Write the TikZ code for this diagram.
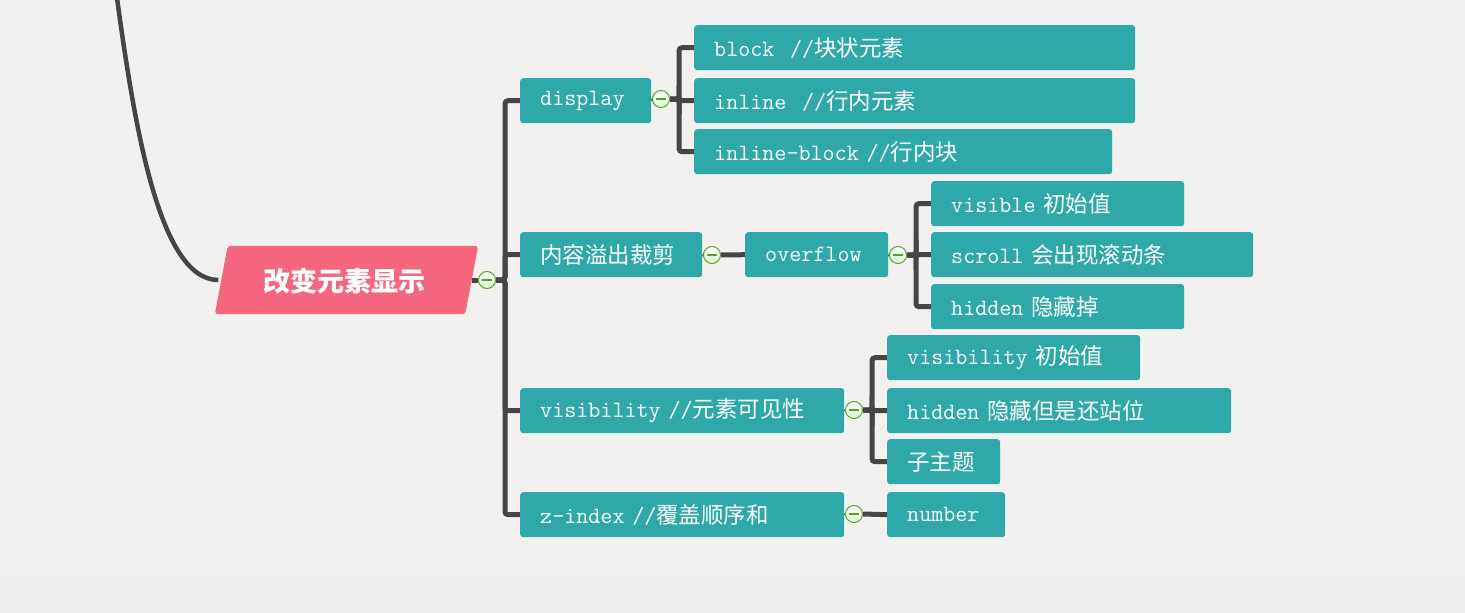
\documentclass[tikz,border=0pt]{standalone}
\usepackage{fontspec}
\newfontfamily\cjk{Noto Sans CJK SC}
\usepackage{tikz}
\usetikzlibrary{backgrounds}
\definecolor{paper}{HTML}{F2F1EF}
\definecolor{band}{HTML}{EEEEEE}
\definecolor{topic}{HTML}{2EA8A9}
\definecolor{rootpink}{HTML}{F4677F}
\definecolor{linegray}{HTML}{454545}
\definecolor{foldgreen}{HTML}{5E9F2A}
\newcommand\zh[1]{{\cjk\fontsize{22.5}{26}\selectfont #1}}
\tikzset{
  tbox/.style={rectangle,fill=topic,rounded corners=3pt,text=white,anchor=north west,
    minimum height=45,inner xsep=20,inner ysep=0,align=left,
    font=\ttfamily\fontsize{23.4}{26}\selectfont},
  link/.style={draw=linegray,line width=5pt,rounded corners=3pt},
  fold/.style={circle,draw=foldgreen,line width=1pt,top color=white,bottom color=green!15!white,
    minimum size=17,inner sep=0,
    path picture={\draw[foldgreen,line width=1.2pt] ([xshift=-5]path picture bounding box.center) -- ++(10,0);}}
}
\begin{document}
\begin{tikzpicture}[x=1pt,y=-1pt]
\useasboundingbox (0,0) rectangle (1465,613);

% root
\node[minimum width=250,minimum height=68,inner sep=0] (root) at (346.5,280) {};
\fill[rootpink,rounded corners=3pt] ([xshift=6.5]root.north west) -- ([xshift=6.5]root.north east)
  -- ([xshift=-6.5]root.south east) -- ([xshift=-6.5]root.south west) -- cycle;
\node[text=white,font=\cjk\bfseries\fontsize{27}{30}\selectfont] at (344,281) {改变元素显示};
\coordinate (up) at (117,-2);

% first level
\node[tbox,text width=91] (disp) at (520,78) {display};
\node[tbox,text width=142] (clip) at (520,232) {\zh{内容溢出裁剪}};
\node[tbox,text width=284] (vis) at (520,388) {visibility //\zh{元素可见性}};
\node[tbox,text width=284] (zidx) at (520,492) {z-index //\zh{覆盖顺序和}};

% display
\node[tbox,text width=401] (block) at (694,25) {block\ \ //\zh{块状元素}};
\node[tbox,text width=401] (inl) at (694,78) {inline\ \ //\zh{行内元素}};
\node[tbox,text width=378] (inlb) at (694,129) {inline-block //\zh{行内块}};

% overflow
\node[tbox,text width=103] (ovf) at (745,232) {overflow};
\node[tbox,text width=213] (ovis) at (931,181) {visible \zh{初始值}};
\node[tbox,text width=282] (oscr) at (931,232) {scroll \zh{会出现滚动条}};
\node[tbox,text width=213] (ohid) at (931,284) {hidden \zh{隐藏掉}};

% visibility
\node[tbox,text width=213] (vini) at (887,335) {visibility \zh{初始值}};
\node[tbox,text width=304] (vhid) at (887,388) {hidden \zh{隐藏但是还站位}};
\node[tbox,text width=73] (vsub) at (887,439) {\zh{子主题}};

% z-index
\node[tbox,text width=78] (znum) at (887,492) {number};

% fold buttons
\node[fold] (fRoot) at (487,280) {};
\node[fold] (fDisp) at (661,99) {};
\node[fold] (fClip) at (712,255) {};
\node[fold] (fOvf) at (898,255) {};
\node[fold] (fVis) at (854,410) {};
\node[fold] (fZidx) at (854,514) {};

% links
\begin{scope}[on background layer]
\fill[paper] (0,0) rectangle (1465,575);
\fill[band] (0,575) rectangle (1465,613);
\draw[linegray,line width=4.5pt] (up) .. controls (135,130) and (160,280) .. ([xshift=-3]root.west);
\draw[link] (root.east) -- (fRoot.west);
\foreach \c in {disp,clip,vis,zidx}
  \draw[link] (fRoot.east) -- ++(9,0) |- (\c.west);
\draw[link] (disp.east) -- (fDisp.west);
\foreach \c in {block,inl,inlb}
  \draw[link] (fDisp.east) -- ++(9,0) |- (\c.west);
\draw[link] (clip.east) -- (fClip.west);
\draw[link] (fClip.east) -- (ovf.west);
\draw[link] (ovf.east) -- (fOvf.west);
\foreach \c in {ovis,oscr,ohid}
  \draw[link] (fOvf.east) -- ++(9,0) |- (\c.west);
\draw[link] (vis.east) -- (fVis.west);
\foreach \c in {vini,vhid,vsub}
  \draw[link] (fVis.east) -- ++(9,0) |- (\c.west);
\draw[link] (zidx.east) -- (fZidx.west);
\draw[link] (fZidx.east) -- (znum.west);
\end{scope}
\end{tikzpicture}
\end{document}
